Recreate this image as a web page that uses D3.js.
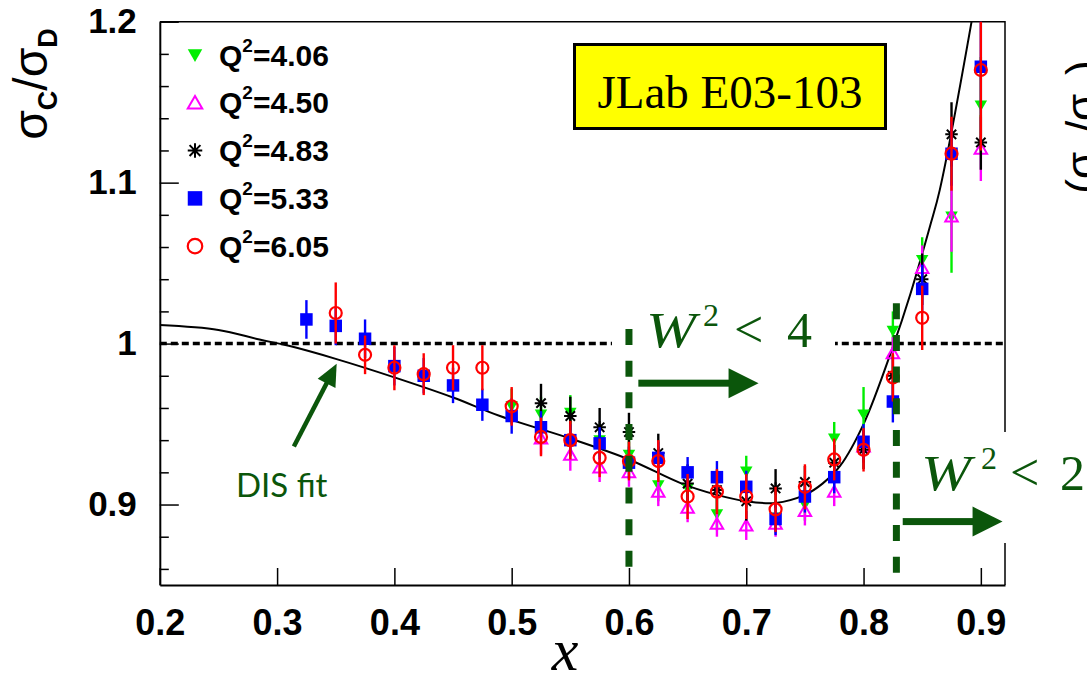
<!DOCTYPE html>
<html>
<head>
<meta charset="utf-8">
<script src="https://cdn.jsdelivr.net/npm/d3@7"></script>
<style>
  body { margin: 0; background: #fff; }
  svg { display: block; }
</style>
</head>
<body>
<svg id="chart" width="1087" height="684"></svg>
<script>
// Bjorken-x bin centres shared by every Q^2 setting
const xGrid = [0.325, 0.35, 0.375, 0.4, 0.425, 0.45, 0.475, 0.5, 0.525, 0.55, 0.575, 0.6,
               0.625, 0.65, 0.675, 0.7, 0.725, 0.75, 0.775, 0.8, 0.825, 0.85, 0.875, 0.9];

// sigma_C / sigma_D per Q^2 setting (null = no measurement in that bin)
const q406 = [null, null, null, null, null, null, null, 0.961, 0.956, 0.957, 0.940, 0.931,
              0.912, 0.910, 0.894, 0.9205, 0.892, 0.900, 0.941, 0.956, 1.008, 1.052, 1.079, 1.148];
const q406Err = [null, null, null, null, null, null, null, 0.011, 0.011, 0.011, 0.010, 0.010,
                 0.010, 0.010, 0.010, 0.0098, 0.010, 0.010, 0.0103, 0.017, 0.012, 0.014, 0.035, 0.030];

const q450 = [null, null, null, null, null, null, null, null, 0.941, 0.931, 0.923, 0.920,
              0.908, 0.898, 0.888, 0.887, 0.888, 0.896, 0.908, 0.936, 0.994, 1.047, 1.079, 1.121];
const q450Err = [null, null, null, null, null, null, null, null, 0.010, 0.010, 0.009, 0.009,
                 0.009, 0.009, 0.008, 0.009, 0.008, 0.009, 0.009, 0.010, 0.010, 0.014, 0.022, 0.020];

const q483 = [null, null, null, null, null, null, null, null, 0.963, 0.955, 0.948, 0.945,
              0.932, 0.913, 0.909, 0.902, 0.910, 0.914, 0.926, 0.934, 0.980, 1.040, 1.130, 1.125];
const q483Err = [null, null, null, null, null, null, null, null, 0.012, 0.012, 0.012, 0.012,
                 0.012, 0.012, 0.012, 0.012, 0.012, 0.010, 0.011, 0.012, 0.013, 0.016, 0.020, 0.017];

const q533 = [1.015, 1.011, 1.003, 0.986, 0.980, 0.974, 0.962, 0.955, 0.948, 0.940, 0.938, 0.926,
              0.929, 0.920, 0.917, 0.911, 0.891, 0.905, 0.917, 0.939, 0.964, 1.034, 1.118, 1.172];
const q533Err = [0.012, 0.012, 0.012, 0.012, 0.011, 0.011, 0.010, 0.011, 0.010, 0.010, 0.010, 0.010,
                 0.010, 0.0095, 0.010, 0.010, 0.010, 0.010, 0.010, 0.011, 0.013, 0.015, 0.020, 0.030];

const q605 = [null, 1.019, 0.993, 0.985, 0.981, 0.985, 0.985, 0.961, 0.942, 0.940, 0.929, 0.927,
              0.927, 0.905, 0.908, 0.905, 0.897, 0.911, 0.928, 0.934, 0.979, 1.016, 1.118, 1.170];
const q605Err = [null, 0.019, 0.012, 0.014, 0.013, 0.014, 0.014, 0.012, 0.012, 0.012, 0.012, 0.012,
                 0.013, 0.014, 0.014, 0.014, 0.014, 0.014, 0.013, 0.0135, 0.015, 0.020, 0.023, 0.050];

// DIS fit curve
const fitX = [0.20, 0.25, 0.285, 0.31, 0.35, 0.40, 0.45, 0.49, 0.55, 0.60, 0.645, 0.675, 0.70,
              0.725, 0.75, 0.765, 0.78, 0.80, 0.825, 0.84, 0.8566, 0.865, 0.8921, 0.90];
const fitY = [1.0115, 1.0085, 1.0025, 0.9986, 0.9905, 0.979, 0.9665, 0.955, 0.941, 0.928, 0.913,
              0.906, 0.902, 0.901, 0.906, 0.913, 0.924, 0.950, 0.998, 1.031, 1.0728, 1.0955, 1.200, 1.235];

// axis ticks
const xTicks = [0.2, 0.3, 0.4, 0.5, 0.6, 0.7, 0.8, 0.9];
const yTicks = [0.9, 1.0, 1.1, 1.2];
const yMinorTicks = [0.86, 0.88, 0.92, 0.94, 0.96, 0.98, 1.02, 1.04, 1.06, 1.08, 1.12, 1.14, 1.16, 1.18];

// legend labels
const q2Labels = ["4.06", "4.50", "4.83", "5.33", "6.05"];

const series = [
  { label: q2Labels[0], vals: q406, errs: q406Err, color: "#00ee00", shape: "triDown" },
  { label: q2Labels[1], vals: q450, errs: q450Err, color: "#ff00ff", shape: "triUp" },
  { label: q2Labels[2], vals: q483, errs: q483Err, color: "#000000", shape: "star" },
  { label: q2Labels[3], vals: q533, errs: q533Err, color: "#0000ff", shape: "square" },
  { label: q2Labels[4], vals: q605, errs: q605Err, color: "#ff0000", shape: "circle" }
];

const svg = d3.select("#chart");
const GREEN = "#0b560b";
const frameL = 159.8, frameR = 1005, frameT = 21.7, frameB = 585;

const x = d3.scaleLinear().domain([0.2, 0.9206]).range([frameL, frameR]);
const y = d3.scaleLinear().domain([0.85, 1.2]).range([frameB, frameT]);

svg.append("defs").append("clipPath").attr("id", "plotClip")
  .append("rect").attr("x", frameL).attr("y", frameT).attr("width", frameR - frameL).attr("height", frameB - frameT);

// top and right frame
svg.append("path")
  .attr("d", `M${frameL},${frameT}H${frameR}V${frameB}`)
  .attr("fill", "none").attr("stroke", "#000").attr("stroke-width", 1.5);

// unity reference line
svg.append("line")
  .attr("x1", x(0.2)).attr("x2", x(0.9206)).attr("y1", y(1)).attr("y2", y(1))
  .attr("stroke", "#000").attr("stroke-width", 3.5).attr("stroke-dasharray", "7,4");

const plot = svg.append("g").attr("clip-path", "url(#plotClip)");

// DIS fit
plot.append("path")
  .datum(fitX.map((v, i) => [v, fitY[i]]))
  .attr("d", d3.line().x(d => x(d[0])).y(d => y(d[1])).curve(d3.curveCatmullRom.alpha(0.5)))
  .attr("fill", "none").attr("stroke", "#000").attr("stroke-width", 2);

function markerPath(shape, s) {
  const h = s / 2;
  switch (shape) {
    case "triDown": return `M${-h},${-h * 0.8}L${h},${-h * 0.8}L0,${h * 0.95}Z`;
    case "triUp": return `M${-h},${h * 0.8}L${h},${h * 0.8}L0,${-h * 0.95}Z`;
    case "square": return `M${-h},${-h}H${h}V${h}H${-h}Z`;
    case "star": {
      const d = h * 0.75;
      return `M0,${-h}V${h}M${-h},0H${h}M${-d},${-d}L${d},${d}M${-d},${d}L${d},${-d}`;
    }
  }
  return "";
}

function drawMarker(g, shape, color, s) {
  if (shape === "circle") {
    g.append("circle").attr("r", s / 2).attr("fill", "none").attr("stroke", color).attr("stroke-width", 2.2);
  } else if (shape === "star" || shape === "triUp") {
    g.append("path").attr("d", markerPath(shape, s)).attr("fill", "none").attr("stroke", color).attr("stroke-width", 2);
  } else {
    g.append("path").attr("d", markerPath(shape, s)).attr("fill", color);
  }
}

series.forEach(sr => {
  const pts = xGrid.map((xv, i) => ({ x: xv, v: sr.vals[i], e: sr.errs[i] })).filter(d => d.v !== null);
  const g = plot.append("g");
  g.selectAll("line.err").data(pts).enter().append("line")
    .attr("x1", d => x(d.x)).attr("x2", d => x(d.x))
    .attr("y1", d => y(d.v - d.e)).attr("y2", d => y(d.v + d.e))
    .attr("stroke", sr.color).attr("stroke-width", 2.4);
  pts.forEach(d => {
    const mg = g.append("g").attr("transform", `translate(${x(d.x)},${y(d.v)})`);
    drawMarker(mg, sr.shape, sr.color, sr.shape === "circle" ? 12 : 12.5);
  });
});

// arrow helper (shaft + triangular head)
function arrow(x1, y1, x2, y2, w, headLen, headW, color) {
  const ang = Math.atan2(y2 - y1, x2 - x1);
  const g = svg.append("g").attr("transform", `translate(${x1},${y1}) rotate(${ang * 180 / Math.PI})`);
  const len = Math.hypot(x2 - x1, y2 - y1);
  g.append("rect").attr("x", 0).attr("y", -w / 2).attr("width", len - headLen + 2).attr("height", w).attr("fill", color);
  g.append("path").attr("d", `M${len - headLen},${-headW / 2}L${len},0L${len - headLen},${headW / 2}Z`).attr("fill", color);
}

// "W^2 < n" label in math style
function wLabel(xW, baseline, xSup, xLt, xNum, num) {
  svg.append("text").attr("transform", `translate(${xW},${baseline}) scale(1.2,1)`)
    .attr("font-family", "Liberation Serif").attr("font-style", "italic").attr("font-size", 50)
    .attr("fill", GREEN).text("W");
  svg.append("text").attr("x", xSup).attr("y", baseline - 21)
    .attr("font-family", "Liberation Serif").attr("font-size", 32).attr("fill", GREEN).text("2");
  svg.append("text").attr("x", xLt).attr("y", baseline)
    .attr("font-family", "Liberation Serif").attr("font-size", 52).attr("fill", GREEN).text("<");
  svg.append("text").attr("x", xNum).attr("y", baseline)
    .attr("font-family", "Liberation Serif").attr("font-size", 50).attr("fill", GREEN).text(num);
}

// W^2 < 4 annotation
svg.append("rect").attr("x", 612).attr("y", 295).attr("width", 223).attr("height", 70).attr("fill", "#fff");
wLabel(646, 347, 703, 734, 787, "4");
arrow(x(0.608), y(0.9754), x(0.7105), y(0.9754), 7, 30, 30, GREEN);

// W^2 < 2 annotation
svg.append("rect").attr("x", 900).attr("y", 432).attr("width", 187).attr("height", 111).attr("fill", "#fff");
wLabel(921, 490, 981, 1010, 1060, "2");
arrow(x(0.8334), y(0.8894), x(0.9185), y(0.8894), 7, 30, 30, GREEN);

// vertical W^2 cut lines
[[0.6, 1.0091, 0.8611], [0.828, 1.0251, 0.8563]].forEach(([xv, y1, y2]) => {
  svg.append("line")
    .attr("x1", x(xv)).attr("x2", x(xv)).attr("y1", y(y1)).attr("y2", y(y2))
    .attr("stroke", GREEN).attr("stroke-width", 7).attr("stroke-dasharray", "16,15.7");
});

// DIS fit label and pointer
svg.append("text").attr("x", 236).attr("y", 497).attr("fill", GREEN)
  .attr("font-family", "Lato").attr("font-size", 33).text("DIS fit");
arrow(x(0.3143), y(0.936), x(0.3508), y(0.9874), 4.5, 22, 20, GREEN);

// axes
const xAxis = svg.append("g").attr("transform", `translate(0,${frameB})`)
  .call(d3.axisBottom(x).tickValues(xTicks).tickSize(-17).tickSizeOuter(0).tickPadding(24)
    .tickFormat(d3.format(".1f")));
xAxis.select(".domain").attr("stroke-width", 2);
xAxis.selectAll(".tick line").attr("stroke-width", 1.5);
xAxis.selectAll("text").attr("font-family", "Liberation Sans").attr("font-weight", "bold")
  .attr("font-size", 36).attr("fill", "#000");

const yAxis = svg.append("g").attr("transform", `translate(${frameL},0)`)
  .call(d3.axisLeft(y).tickValues(yTicks).tickSize(-19).tickSizeOuter(0).tickPadding(23)
    .tickFormat(d => d === 1 ? "1" : d3.format(".1f")(d)));
yAxis.select(".domain").attr("stroke-width", 2);
yAxis.selectAll(".tick line").attr("stroke-width", 1.5);
yAxis.selectAll("text").attr("font-family", "Liberation Sans").attr("font-weight", "bold")
  .attr("font-size", 35).attr("fill", "#000");

const yMinor = svg.append("g").attr("transform", `translate(${frameL},0)`)
  .call(d3.axisLeft(y).tickValues(yMinorTicks).tickSize(-9).tickSizeOuter(0).tickFormat(""));
yMinor.select(".domain").remove();
yMinor.selectAll(".tick line").attr("stroke-width", 1.5);

// axis titles
const yl = svg.append("text").attr("transform", "translate(47,84) rotate(-90)")
  .attr("text-anchor", "middle").attr("font-family", "Liberation Sans").attr("font-size", 48).attr("fill", "#000");
yl.append("tspan").text("σ");
yl.append("tspan").attr("font-size", 27).attr("font-weight", "bold").attr("dy", 10).text("C");
yl.append("tspan").attr("dy", -10).text("/σ");
yl.append("tspan").attr("font-size", 27).attr("font-weight", "bold").attr("dy", 10).text("D");

svg.append("text").attr("x", 565).attr("y", 670).attr("text-anchor", "middle")
  .attr("font-family", "Liberation Serif").attr("font-style", "italic").attr("font-size", 60).text("x");

// neighbouring panel's axis title, cut by the page edge
const yr = svg.append("text").attr("transform", "translate(1097,127) rotate(-90)")
  .attr("text-anchor", "middle").attr("font-family", "Liberation Sans").attr("font-size", 44).attr("fill", "#000");
yr.append("tspan").text("(σ");
yr.append("tspan").attr("font-size", 26).attr("font-weight", "bold").attr("dy", 10).text("A");
yr.append("tspan").attr("dy", -10).text("/σ");
yr.append("tspan").attr("font-size", 26).attr("font-weight", "bold").attr("dy", 10).text("D");
yr.append("tspan").attr("dy", -10).text(")");

// legend
const legendY0 = 55, legendStep = 47.8;
series.forEach((sr, i) => {
  const cy = legendY0 + i * legendStep;
  const mg = svg.append("g").attr("transform", `translate(195,${cy})`);
  drawMarker(mg, sr.shape, sr.color, 14.5);
  const t = svg.append("text").attr("x", 219).attr("y", cy + 10.5)
    .attr("font-family", "Liberation Sans").attr("font-weight", "bold").attr("font-size", 30).attr("fill", "#000");
  t.append("tspan").text("Q");
  t.append("tspan").attr("font-size", 19).attr("dy", -14).text("2");
  t.append("tspan").attr("dy", 14).text("=" + sr.label);
});

// experiment tag
svg.append("rect").attr("x", 574.5).attr("y", 44.5).attr("width", 311).attr("height", 84)
  .attr("fill", "#ffff00").attr("stroke", "#000").attr("stroke-width", 3);
svg.append("text").attr("x", 730).attr("y", 108).attr("text-anchor", "middle")
  .attr("font-family", "Liberation Serif").attr("font-size", 47).attr("fill", "#000").text("JLab E03-103");
</script>
</body>
</html>
